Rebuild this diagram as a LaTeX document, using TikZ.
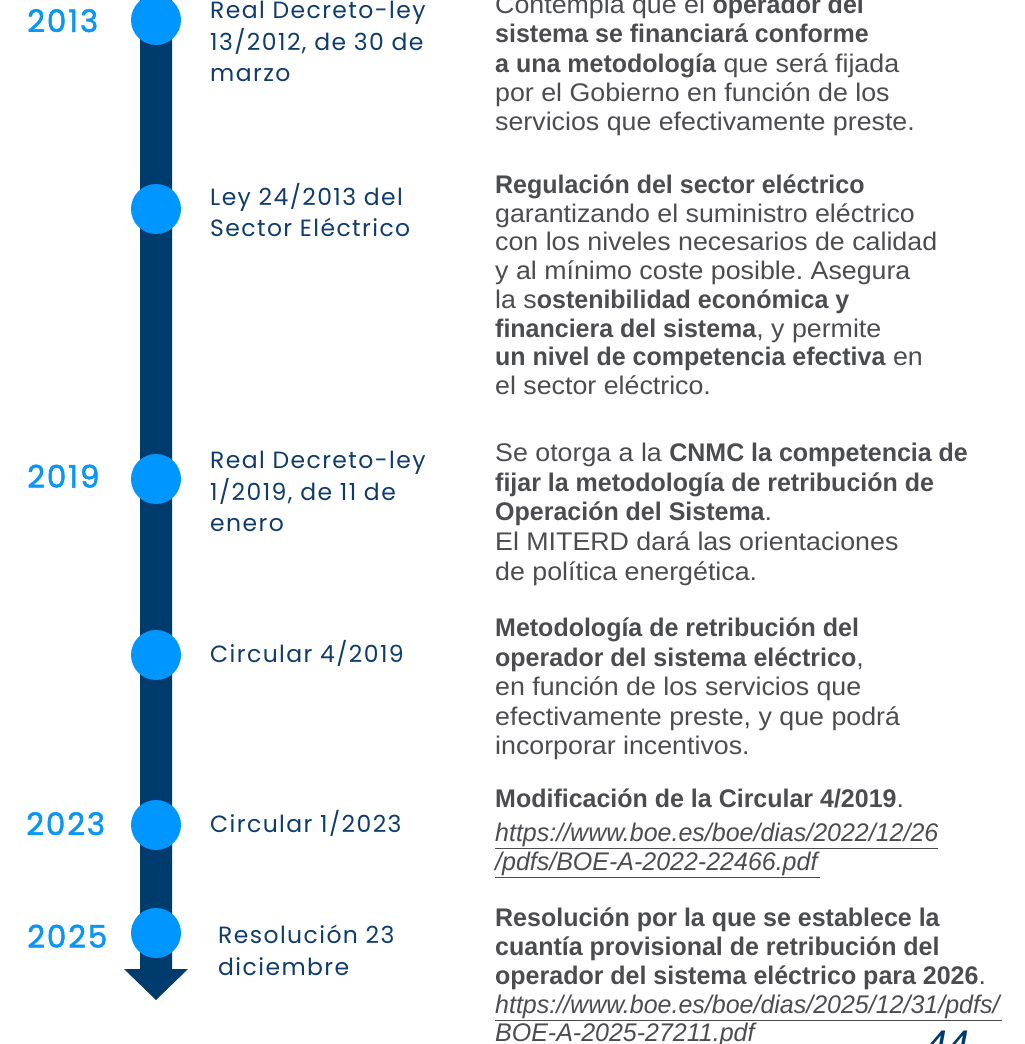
\documentclass[tikz,border=0pt]{standalone}
\usepackage{fontspec}
\setmainfont{Liberation Sans}[UprightFeatures={FakeStretch=1.05},BoldFeatures={FakeStretch=0.98},ItalicFeatures={FakeStretch=0.98}]
\newfontfamily\lblfont{Poppins}[LetterSpace=6]
\newfontfamily\yrfont{Poppins}[FakeBold=1.6,LetterSpace=6]
\usetikzlibrary{positioning}
\definecolor{navy}{HTML}{003B6E}
\definecolor{dotblue}{HTML}{0096FF}
\definecolor{yearblue}{HTML}{0A96F2}
\definecolor{lblnavy}{HTML}{0F3C6C}
\definecolor{txtgray}{HTML}{4B4C50}
\newcommand\rline[3]{\node[rtext] (#1) at (495,#2) {#3};}
\newcommand\lnk[1]{\underline{\textit{#1}}}
\frenchspacing
\begin{document}
\begin{tikzpicture}[x=1pt,y=-1pt,
  rtext/.style={anchor=base west,inner sep=0,text=txtgray,font=\frenchspacing\fontsize{25.5}{30}\selectfont},
  lbl/.style={anchor=base west,inner sep=0,text=lblnavy,font=\lblfont\fontsize{23.5}{26}\selectfont},
  yr/.style={anchor=base west,inner sep=0,text=yearblue,font=\yrfont\fontsize{31}{34}\selectfont},
  dot/.style={circle,fill=dotblue,minimum size=50pt,inner sep=0},
  pagenum/.style={anchor=base west,inner sep=0,text=navy,font=\itshape\fontsize{40}{44}\selectfont}]
\useasboundingbox (0,0) rectangle (1025,1044);
\clip (0,0) rectangle (1025,1044);
% timeline bar with arrow head
\coordinate (bartop) at (156,-2);
\coordinate (barend) at (156,1000);
\fill[navy] (140,-2) -- (172,-2) -- (172,969) -- (188,969) -- (barend) -- (124,969) -- (140,969) -- cycle;
% dots
\node[dot] (d1) at (156,20) {};
\node[dot] (d2) at (156,209) {};
\node[dot] (d3) at (156,479) {};
\node[dot] (d4) at (156,655) {};
\node[dot] (d5) at (156,825) {};
\node[dot] (d6) at (156,933) {};
% years
\node[yr] (y1) at (27,32) {2013};
\node[yr] (y2) at (27,487.5) {2019};
\node[yr] (y3) at (26,835) {2023};
\node[yr] (y4) at (27,947.5) {2025};
% left labels
\node[lbl] (a1) at (210,19) {Real Decreto-ley};
\node[lbl] (a2) at (210,50) {13/2012, de 30 de};
\node[lbl] (a3) at (210,81) {marzo};
\node[lbl] (b1) at (210,205) {Ley 24/2013 del};
\node[lbl] (b2) at (210,236) {Sector Eléctrico};
\node[lbl] (c1) at (210,468.5) {Real Decreto-ley};
\node[lbl] (c2) at (210,500) {1/2019, de 11 de};
\node[lbl] (c3) at (210,531.5) {enero};
\node[lbl] (e1) at (210,662.5) {Circular 4/2019};
\node[lbl] (f1) at (210,832.5) {Circular 1/2023};
\node[lbl] (g1) at (218,943.5) {Resolución 23};
\node[lbl] (g2) at (218,975) {diciembre};
% block 1
\rline{t11}{13.5}{Contempla que el \textbf{operador del}}
\rline{t12}{42.8}{\textbf{sistema se financiará conforme}}
\rline{t13}{72.1}{\textbf{a una metodología} que será fijada}
\rline{t14}{101.4}{por el Gobierno en función de los}
\rline{t15}{130.7}{servicios que efectivamente preste.}
% block 2
\rline{t21}{193.3}{\textbf{Regulación del sector eléctrico}}
\rline{t22}{222}{garantizando el suministro eléctrico}
\rline{t23}{250.8}{con los niveles necesarios de calidad}
\rline{t24}{279.5}{y al mínimo coste posible. Asegura}
\rline{t25}{308.2}{la s\textbf{ostenibilidad económica y}}
\rline{t26}{337}{\textbf{financiera del sistema}, y permite}
\rline{t27}{365.7}{\textbf{un nivel de competencia efectiva} en}
\rline{t28}{394.4}{el sector eléctrico.}
% block 3
\rline{t31}{461.5}{Se otorga a la \textbf{CNMC la competencia de}}
\rline{t32}{491.2}{\textbf{fijar la metodología de retribución de}}
\rline{t33}{520.9}{\textbf{Operación del Sistema}.}
\rline{t34}{550.6}{El MITERD dará las orientaciones}
\rline{t35}{580.3}{de política energética.}
% block 4
\rline{t41}{636.5}{\textbf{Metodología de retribución del}}
\rline{t42}{666}{\textbf{operador del sistema eléctrico},}
\rline{t43}{695.5}{en función de los servicios que}
\rline{t44}{725}{efectivamente preste, y que podrá}
\rline{t45}{754.5}{incorporar incentivos.}
% block 5
\rline{t51}{807}{\textbf{Modificación de la Circular 4/2019}.}
\rline{t52}{841.5}{\lnk{https://www.boe.es/boe/dias/2022/12/26}}
\rline{t53}{870}{\lnk{/pdfs/BOE-A-2022-22466.pdf}}
% block 6
\rline{t61}{926.5}{\textbf{Resolución por la que se establece la}}
\rline{t62}{955.5}{\textbf{cuantía provisional de retribución del}}
\rline{t63}{984.5}{\textbf{operador del sistema eléctrico para 2026}.}
\rline{t64}{1013}{\lnk{https://www.boe.es/boe/dias/2025/12/31/pdfs/}}
\rline{t65}{1041.5}{\lnk{BOE-A-2025-27211.pdf}}
% page number
\node[pagenum] (pg) at (925,1058) {44};
\end{tikzpicture}
\end{document}
